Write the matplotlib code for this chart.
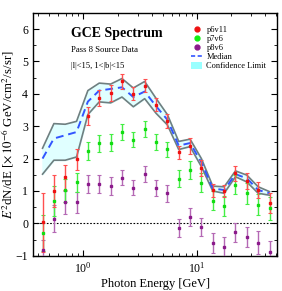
import numpy as np
import matplotlib
matplotlib.use("Agg")
import matplotlib.pyplot as plt
from matplotlib.lines import Line2D
from matplotlib.patches import Patch
from matplotlib.ticker import MultipleLocator, LogLocator, NullFormatter

plt.rcParams['font.family'] = ['Liberation Serif', 'DejaVu Serif']
plt.rcParams['mathtext.fontset'] = 'stix'

# photon energy bin centres [GeV]
energy = [0.437, 0.550, 0.692, 0.871, 1.096, 1.380, 1.738, 2.188, 2.754, 3.467,
          4.365, 5.495, 6.918, 8.710, 10.96, 13.80, 17.38, 21.88, 27.54, 34.67, 43.65]

p6v11 = [0.03, 1.00, 1.42, 1.98, 3.32, 3.87, 4.03, 4.38, 4.00, 4.25, 3.66,
         3.17, 2.20, 2.40, 1.70, 1.03, 1.00, 1.54, 1.30, 1.02, 0.63]
p6v11_err = [0.90, 0.50, 0.38, 0.32, 0.28, 0.26, 0.24, 0.22, 0.20, 0.20, 0.20,
             0.22, 0.20, 0.25, 0.25, 0.20, 0.20, 0.22, 0.25, 0.25, 0.30]

p7v6 = [-0.29, 0.69, 1.02, 1.27, 2.24, 2.47, 2.49, 2.83, 2.58, 2.92, 2.52,
        2.29, 1.38, 1.65, 1.26, 0.70, 0.54, 1.20, 0.93, 0.58, 0.46]
p7v6_err = [0.55, 0.45, 0.36, 0.30, 0.28, 0.27, 0.26, 0.25, 0.23, 0.24, 0.24,
            0.23, 0.27, 0.27, 0.30, 0.30, 0.30, 0.30, 0.32, 0.32, 0.35]

p8v6 = [-0.81, 0.15, 0.65, 0.65, 1.22, 1.22, 1.16, 1.41, 1.10, 1.52, 1.10,
        0.93, -0.14, 0.20, -0.11, -0.60, -0.73, -0.28, -0.42, -0.60, -0.88]
p8v6_err = [0.30, 0.42, 0.35, 0.32, 0.27, 0.27, 0.27, 0.23, 0.23, 0.25, 0.25,
            0.27, 0.27, 0.28, 0.28, 0.30, 0.32, 0.28, 0.32, 0.35, 0.35]

median = [2.00, 2.62, 2.72, 2.82, 3.76, 4.10, 4.15, 4.20, 3.90, 4.07, 3.62,
          3.20, 2.40, 2.48, 1.88, 1.08, 1.03, 1.52, 1.39, 1.03, 0.93]
upper = [2.32, 3.08, 3.06, 3.15, 4.10, 4.33, 4.30, 4.47, 4.18, 4.38, 3.86,
         3.36, 2.53, 2.60, 2.00, 1.15, 1.13, 1.62, 1.49, 1.13, 0.98]
lower = [1.52, 1.95, 1.95, 2.05, 3.36, 3.75, 3.72, 3.90, 3.60, 3.85, 3.40,
         3.04, 2.28, 2.37, 1.75, 1.00, 0.93, 1.44, 1.28, 0.93, 0.87]

fig = plt.figure(figsize=(2.82, 2.91), dpi=100)
ax = fig.add_axes([0.117, 0.121, 0.866, 0.835])

ax.fill_between(energy, lower, upper, color='#e0ffff', zorder=1)
ax.plot(energy, upper, color='#6f7f80', lw=1.2, zorder=2)
ax.plot(energy, lower, color='#6f7f80', lw=1.2, zorder=2)
ax.plot(energy, median, color='#3355ff', lw=1.4, ls=(0, (4, 2.5)), zorder=3)

ax.axhline(0, color='black', lw=0.8, ls=(0, (1.5, 1.5)), zorder=1)

ekw = dict(fmt='s', ms=1.8, elinewidth=1.0, capsize=1.4, capthick=0.8, zorder=4)
ax.errorbar(energy, p8v6, yerr=p8v6_err, color='#8b1a8b', ecolor='#b468b4', **ekw)
ax.errorbar(energy, p7v6, yerr=p7v6_err, color='#11dd11', ecolor='#44ee44', **ekw)
ax.errorbar(energy, p6v11, yerr=p6v11_err, color='#ee1111', ecolor='#ff5050', **ekw)

ax.set_xscale('log')
ax.set_xlim(0.36, 51)
ax.set_ylim(-1, 6.5)
ax.yaxis.set_major_locator(MultipleLocator(1))
ax.yaxis.set_minor_locator(MultipleLocator(0.5))
ax.xaxis.set_major_locator(LogLocator(base=10, numticks=10))
ax.xaxis.set_minor_locator(LogLocator(base=10, subs=np.arange(2, 10), numticks=20))
ax.xaxis.set_minor_formatter(NullFormatter())
ax.tick_params(which='both', direction='in', top=True, right=True, labelsize=8.5)
ax.tick_params(which='major', length=4, width=0.8)
ax.tick_params(which='minor', length=2, width=0.6)
for s in ax.spines.values():
    s.set_linewidth(1.0)

ax.set_xlabel('Photon Energy [GeV]', fontsize=9, labelpad=2)
ax.set_ylabel(r'$E^2$dN/dE [$\times\,10^{-6}$ GeV/cm$^2$/s/sr]', fontsize=9.3, labelpad=0)

ax.text(0.155, 0.915, 'GCE Spectrum', transform=ax.transAxes, fontsize=10,
        fontweight='bold', va='center', ha='left')
ax.text(0.155, 0.845, 'Pass 8 Source Data', transform=ax.transAxes, fontsize=6.2,
        va='center', ha='left')
ax.text(0.155, 0.782, '|l|<15, 1<|b|<15', transform=ax.transAxes, fontsize=6.2,
        va='center', ha='left')

handles = [
    Line2D([], [], ls='none', marker='o', ms=3.5, color='#ee1111'),
    Line2D([], [], ls='none', marker='o', ms=3.5, color='#11ee11'),
    Line2D([], [], ls='none', marker='o', ms=3.5, color='#8b1a8b'),
    Line2D([], [], color='#3355ff', lw=1.2, ls=(0, (2.5, 1.5))),
    Patch(facecolor='#99ffff', edgecolor='none'),
]
labels = ['p6v11', 'p7v6', 'p8v6', 'Median', 'Confidence Limit']
ax.legend(handles, labels, loc='upper left', bbox_to_anchor=(0.625, 0.97),
          frameon=False, fontsize=6, handlelength=1.3, handletextpad=0.5,
          labelspacing=0.12, borderpad=0.2, handleheight=0.8)

fig.savefig('out.png', dpi=100)
